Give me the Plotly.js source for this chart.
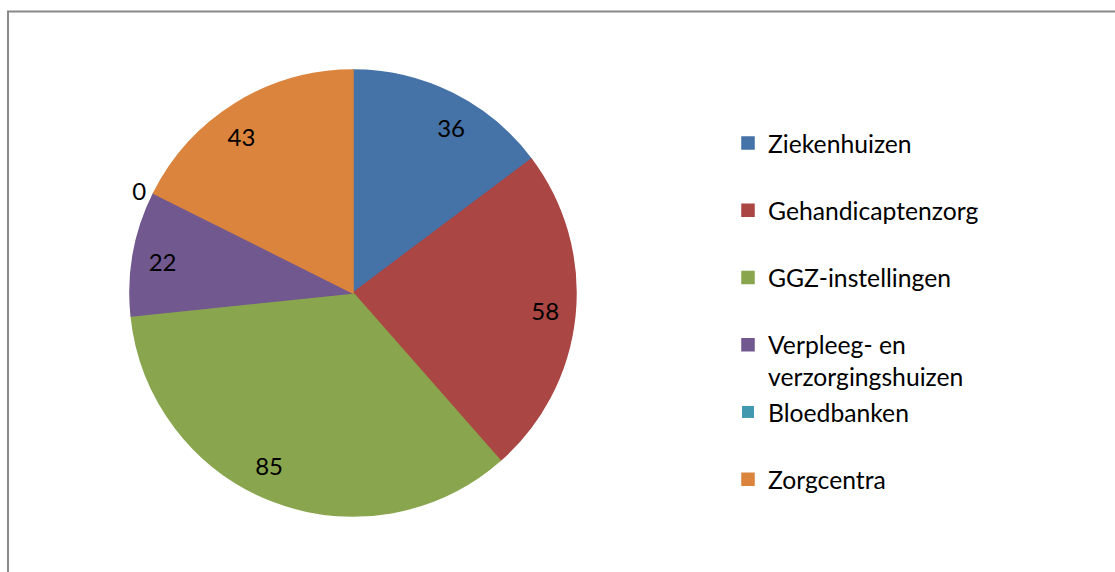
<!DOCTYPE html>
<html><head><meta charset="utf-8">
<script src="https://cdn.plot.ly/plotly-3.0.1.min.js"></script>
<style>html,body{margin:0;padding:0;background:#fff}#chart{width:1115px;height:572px}</style>
</head><body><div id="chart"></div>
<script>
const categories = ['Ziekenhuizen','Gehandicaptenzorg','GGZ-instellingen','Verpleeg- en verzorgingshuizen','Bloedbanken','Zorgcentra'];
const legendLabels = ['Ziekenhuizen','Gehandicaptenzorg','GGZ-instellingen','Verpleeg- en<br>verzorgingshuizen','Bloedbanken','Zorgcentra'];
const values = [36,58,85,22,0,43];
const colors = ['#4572A7','#AA4643','#89A54E','#71588F','#4198AF','#DB843D'];

const W = 1115, H = 572;
const cx = 353, cy = 293, R = 223, rLab = 172;
function dom(r){ return {x:[(cx-r)/W,(cx+r)/W], y:[(H-cy-r)/H,(H-cy+r)/H]}; }
const FONT = 'Lato, "Liberation Sans", sans-serif';

// legend entries: each item spans two lines
const shown = legendLabels.map(l => l.indexOf('<br>') >= 0 ? l : l + '<br> ');

const main = {
  type:'pie', labels: shown, values: values, sort:false, direction:'clockwise', rotation:0,
  marker:{colors: colors, line:{width: values.map(v => v === 0 ? 0 : 1.5), color: colors}}, domain: dom(R),
  textinfo:'value', textposition: values.map(v => v === 0 ? 'outside' : 'none'),
  outsidetextfont:{family:FONT,size:24,color:'#000'},
  hoverinfo:'none', automargin:false, showlegend:true
};
const labelsTrace = {
  type:'pie', labels: shown, values: values, sort:false, direction:'clockwise', rotation:0,
  marker:{colors: values.map(()=> 'rgba(0,0,0,0)'), line:{width:0}}, domain: dom(rLab),
  textinfo:'value', textposition: values.map(v => v === 0 ? 'none' : 'outside'),
  outsidetextfont:{family:FONT,size:24,color:'#000'},
  hoverinfo:'none', automargin:false, showlegend:false
};

const layout = {
  width:W, height:H, margin:{l:0,r:0,t:0,b:0},
  paper_bgcolor:'#fff', font:{family:FONT,size:24.7,color:'#000'},
  legend:{x:728/W, y:1-120.5/H, xanchor:'left', yanchor:'top', valign:'top',
          font:{family:FONT,size:24.7,color:'#000'}, bgcolor:'rgba(0,0,0,0)', traceorder:'normal'},
  shapes:[{type:'rect', xref:'paper', yref:'paper', x0:8/W, x1:1.05, y0:-0.05, y1:1-11.5/H,
           line:{color:'#898989', width:2}}]
};
Plotly.newPlot('chart',[main,labelsTrace],layout,{staticPlot:true,displayModeBar:false});
</script></body></html>
